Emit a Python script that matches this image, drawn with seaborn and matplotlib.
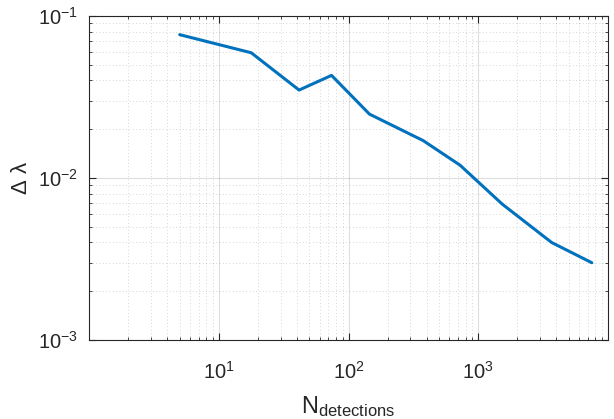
import numpy as np
import pandas as pd
import matplotlib
matplotlib.use("Agg")
import matplotlib.pyplot as plt
import seaborn as sns
from matplotlib.ticker import LogLocator, NullFormatter, FixedLocator

# Data
n_detections = [5.0, 17.8, 41.6, 74, 145, 377, 724, 1530, 3675, 7500]
delta_lambda = [0.0767, 0.0593, 0.0349, 0.0430, 0.0248, 0.0170, 0.0120, 0.0069, 0.0040, 0.0030]
x_major_ticks = [10, 100, 1000]
y_major_ticks = [1e-3, 1e-2, 1e-1]

df = pd.DataFrame({"N": n_detections, "dl": delta_lambda})

sns.set_style("ticks")
plt.rcParams['font.family'] = ['Liberation Sans', 'DejaVu Sans']
plt.rcParams['mathtext.fontset'] = 'custom'
plt.rcParams['mathtext.rm'] = 'Liberation Sans'
plt.rcParams['mathtext.it'] = 'Liberation Sans'

fig = plt.figure(figsize=(6.14, 4.19), dpi=100)
ax = fig.add_axes([89/614, 1 - 340/419, (608-89)/614, (340-16)/419])

sns.lineplot(data=df, x="N", y="dl", ax=ax, color="#0072BD", linewidth=2.2)

ax.set_xscale("log")
ax.set_yscale("log")
ax.set_xlim(1, 1e4)
ax.set_ylim(1e-3, 1e-1)

ax.xaxis.set_major_locator(FixedLocator(x_major_ticks))
ax.yaxis.set_major_locator(FixedLocator(y_major_ticks))
ax.xaxis.set_minor_locator(LogLocator(base=10, subs=np.arange(2, 10), numticks=20))
ax.yaxis.set_minor_locator(LogLocator(base=10, subs=np.arange(2, 10), numticks=20))
ax.xaxis.set_minor_formatter(NullFormatter())
ax.yaxis.set_minor_formatter(NullFormatter())
ax.set_xticklabels([r"$\mathregular{10^{%d}}$" % int(np.log10(v)) for v in x_major_ticks])
ax.set_yticklabels([r"$\mathregular{10^{%d}}$" % int(np.log10(v)) for v in y_major_ticks])

ax.grid(True, which="major", color="#262626", alpha=0.15, linestyle="-", linewidth=0.8)
ax.grid(True, which="minor", color="#262626", alpha=0.25, linestyle=(0, (1, 3)), linewidth=0.6)
ax.set_axisbelow(True)

for s in ax.spines.values():
    s.set_visible(True)
    s.set_color("#262626")
    s.set_linewidth(0.8)

ax.tick_params(which="both", direction="in", top=True, right=True, colors="#262626",
               labelsize=14.5, labelcolor="#262626")
ax.tick_params(which="major", length=5, width=0.8)
ax.tick_params(axis="y", which="major", pad=8)
ax.tick_params(axis="x", which="major", pad=15)
ax.tick_params(which="minor", length=2.5, width=0.6)

ax.set_xlabel(r"$\mathregular{N_{detections}}$", fontsize=17, color="#262626", labelpad=8)
ax.set_ylabel(r"$\Delta\ \lambda$", fontsize=16, color="#262626", labelpad=4)

fig.savefig("out.png", dpi=100)
